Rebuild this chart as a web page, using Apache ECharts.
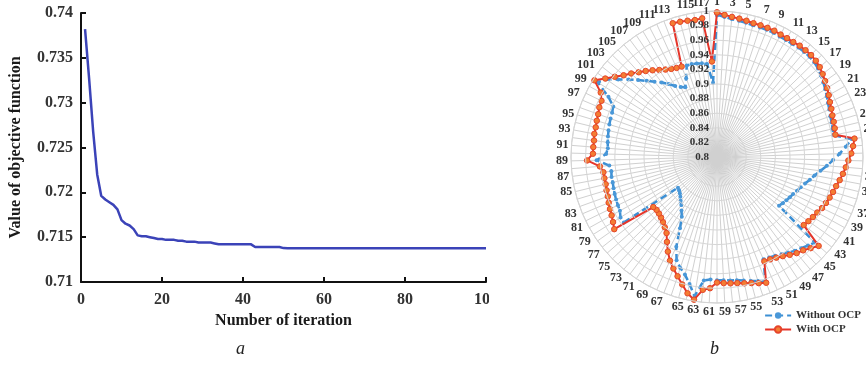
<!DOCTYPE html>
<html>
<head>
<meta charset="utf-8">
<script src="https://cdn.jsdelivr.net/npm/echarts@6/dist/echarts.min.js"></script>
<style>
  html, body { margin: 0; padding: 0; background: #ffffff; }
  #wrap { position: relative; width: 866px; height: 365px; overflow: hidden; }
  #left { position: absolute; left: 0; top: 0; width: 489px; height: 365px; }
  #right { position: absolute; left: 489px; top: 0; width: 377px; height: 365px; }
</style>
</head>
<body>
<div id="wrap"><div id="left"></div><div id="right"></div></div>
<script>
// ---------- Panel a: convergence ----------
const iterTicks = [0, 20, 40, 60, 80, 100];
const objective = [
  0.7382, 0.7327, 0.7268, 0.7220, 0.7196, 0.7192, 0.7189, 0.7186, 0.7181, 0.7169,
  0.7165, 0.7163, 0.7159, 0.7152, 0.7151, 0.7151, 0.7150, 0.7149, 0.7148, 0.7148,
  0.7147, 0.7147, 0.7147, 0.7146, 0.7146, 0.7145, 0.7145, 0.7145, 0.7144, 0.7144,
  0.7144, 0.7144, 0.7143, 0.7142, 0.7142, 0.7142, 0.7142, 0.7142, 0.7142, 0.7142,
  0.7142, 0.7142, 0.7139, 0.7139, 0.7139, 0.7139, 0.7139, 0.7139, 0.7139, 0.71378,
  0.71376, 0.71376, 0.71376, 0.71376, 0.71376, 0.71376, 0.71376, 0.71376, 0.71376, 0.71376,
  0.71376, 0.71376, 0.71376, 0.71376, 0.71376, 0.71376, 0.71376, 0.71376, 0.71376, 0.71376,
  0.71376, 0.71376, 0.71376, 0.71376, 0.71376, 0.71376, 0.71376, 0.71376, 0.71376, 0.71376,
  0.71376, 0.71376, 0.71376, 0.71376, 0.71376, 0.71376, 0.71376, 0.71376, 0.71376, 0.71376,
  0.71376, 0.71376, 0.71376, 0.71376, 0.71376, 0.71376, 0.71376, 0.71376, 0.71376, 0.71376
];

// ---------- Panel b: voltage profile (118 buses) ----------
const busNames = Array.from({ length: 118 }, (_, i) => String(i + 1));
const radialTicks = [0.8, 0.82, 0.84, 0.86, 0.88, 0.9, 0.92, 0.94, 0.96, 0.98, 1];
const withoutOCP = [
  0.995, 0.992, 0.990, 0.989, 0.988, 0.987, 0.987, 0.987, 0.987, 0.986,
  0.986, 0.986, 0.987, 0.987, 0.987, 0.986, 0.984, 0.981, 0.978, 0.975,
  0.972, 0.969, 0.967, 0.965, 0.964, 0.963, 0.962, 0.986, 0.977, 0.968,
  0.959, 0.951, 0.943, 0.936, 0.931, 0.926, 0.922, 0.919, 0.916, 0.914,
  0.912, 0.910, 0.908, 0.978, 0.974, 0.970, 0.967, 0.963, 0.960, 0.957,
  0.955, 0.954, 0.982, 0.979, 0.976, 0.973, 0.971, 0.970, 0.969, 0.969,
  0.968, 0.970, 0.993, 0.978, 0.967, 0.960, 0.952, 0.935, 0.910, 0.895,
  0.888, 0.882, 0.878, 0.874, 0.871, 0.869, 0.868, 0.956, 0.956, 0.952,
  0.951, 0.950, 0.949, 0.948, 0.947, 0.947, 0.946, 0.948, 0.965, 0.952,
  0.950, 0.951, 0.952, 0.953, 0.954, 0.955, 0.956, 0.958, 0.970, 0.993,
  0.985, 0.972, 0.961, 0.951, 0.942, 0.934, 0.927, 0.920, 0.913, 0.908,
  0.905, 0.916, 0.932, 0.932, 0.931, 0.930, 0.928, 0.902
];
const withOCP = [
  0.998, 0.995, 0.993, 0.992, 0.991, 0.990, 0.990, 0.990, 0.990, 0.989,
  0.989, 0.989, 0.990, 0.990, 0.990, 0.989, 0.987, 0.984, 0.981, 0.978,
  0.975, 0.972, 0.970, 0.968, 0.967, 0.966, 0.965, 0.990, 0.987, 0.984,
  0.980, 0.977, 0.974, 0.971, 0.968, 0.966, 0.964, 0.962, 0.960, 0.957,
  0.955, 0.953, 0.951, 0.985, 0.979, 0.974, 0.971, 0.967, 0.963, 0.960,
  0.958, 0.957, 0.985, 0.982, 0.979, 0.977, 0.975, 0.974, 0.973, 0.972,
  0.980, 0.983, 0.998, 0.991, 0.981, 0.972, 0.964, 0.956, 0.946, 0.935,
  0.925, 0.920, 0.916, 0.913, 0.911, 0.910, 0.911, 0.972, 0.968, 0.965,
  0.963, 0.961, 0.959, 0.958, 0.957, 0.957, 0.957, 0.961, 0.978, 0.970,
  0.970, 0.970, 0.971, 0.971, 0.972, 0.973, 0.975, 0.976, 0.982, 0.998,
  0.987, 0.978, 0.970, 0.964, 0.958, 0.953, 0.948, 0.943, 0.939, 0.936,
  0.934, 0.933, 0.993, 0.992, 0.991, 0.990, 0.991, 0.931
];
const seriesNames = ['Without OCP', 'With OCP'];

const SERIF = '"Liberation Serif", "DejaVu Serif", serif';

// ----- chart a -----
const chartA = echarts.init(document.getElementById('left'), null, { renderer: 'canvas' });
chartA.setOption({
  animation: false,
  backgroundColor: '#ffffff',
  grid: { left: 81, top: 13, width: 405, height: 269, containLabel: false, outerBoundsMode: 'none' },
  xAxis: {
    type: 'value', min: 0, max: 100, interval: 20,
    name: 'Number of iteration', nameLocation: 'middle', nameGap: 30,
    nameTextStyle: { fontFamily: SERIF, fontWeight: 'bold', fontSize: 16, color: '#1a1a1a' },
    axisLine: { lineStyle: { color: '#111', width: 2 } },
    axisTick: { inside: true, length: 5, lineStyle: { color: '#111', width: 2 } },
    axisLabel: { margin: 10, fontFamily: SERIF, fontWeight: 'bold', fontSize: 16, color: '#333',
      formatter: v => String(iterTicks[iterTicks.indexOf(v)]) },
    splitLine: { show: false }
  },
  yAxis: {
    type: 'value', min: 0.71, max: 0.74, interval: 0.005,
    name: 'Value of objective function', nameLocation: 'middle', nameGap: 57,
    nameTextStyle: { fontFamily: SERIF, fontWeight: 'bold', fontSize: 16, color: '#1a1a1a' },
    axisLine: { show: true, lineStyle: { color: '#111', width: 2 } },
    axisTick: { show: true, inside: true, length: 5, lineStyle: { color: '#111', width: 2 } },
    axisLabel: { margin: 8, fontFamily: SERIF, fontWeight: 'bold', fontSize: 16, color: '#333' },
    splitLine: { show: false }
  },
  graphic: [{
    type: 'text', left: 236, top: 340,
    style: { text: 'a', font: 'italic 18px ' + SERIF, fill: '#222' }
  }],
  series: [{
    type: 'line',
    data: objective.map((v, i) => [i + 1, v]),
    showSymbol: false,
    lineStyle: { color: '#3b43b8', width: 2.5 },
    itemStyle: { color: '#3b43b8' }
  }]
});

// ----- chart b -----
const chartB = echarts.init(document.getElementById('right'), null, { renderer: 'canvas' });
const N = busNames.length;
function closed(arr) {
  const d = arr.map((v, i) => [v, i]);
  d.push([arr[0], N]);
  return d;
}
chartB.setOption({
  animation: false,
  backgroundColor: '#ffffff',
  polar: { center: [228, 157], radius: 146 },
  angleAxis: {
    type: 'value', min: 0, max: N, interval: 1,
    startAngle: 90, clockwise: true,
    axisLine: { show: true, lineStyle: { color: '#d0d0d0', width: 1 } },
    axisTick: { show: false },
    splitLine: { show: true, lineStyle: { color: '#d0d0d0', width: 1 } },
    axisLabel: {
      margin: 3, fontFamily: SERIF, fontWeight: 'bold', fontSize: 12, color: '#333',
      formatter: v => (v < N && v % 2 === 0) ? busNames[v] : ''
    }
  },
  radiusAxis: {
    type: 'value', min: 0.8, max: 1, interval: 0.02,
    axisLine: { show: false },
    axisTick: { show: false },
    splitLine: { show: true, lineStyle: { color: '#d6d6d6', width: 1 } },
    axisLabel: { margin: 8, fontFamily: SERIF, fontWeight: 'bold', fontSize: 11, color: '#333',
      formatter: v => String(radialTicks.find(t => Math.abs(t - v) < 1e-9) ?? v) },
    z: 5
  },
  legend: {
    orient: 'vertical', right: 0, top: 305, itemGap: 3,
    itemWidth: 26, itemHeight: 8,
    data: seriesNames,
    textStyle: { fontFamily: SERIF, fontWeight: 'bold', fontSize: 11, color: '#333' }
  },
  graphic: [{
    type: 'text', left: 221, top: 340,
    style: { text: 'b', font: 'italic 18px ' + SERIF, fill: '#222' }
  }],
  series: [{
    name: seriesNames[0],
    type: 'line', coordinateSystem: 'polar',
    data: closed(withoutOCP),
    symbol: 'circle', symbolSize: 4,
    lineStyle: { color: '#3c8fd4', width: 2.5, type: [7, 4] },
    itemStyle: { color: '#4a98d8' },
    z: 3
  }, {
    name: seriesNames[1],
    type: 'line', coordinateSystem: 'polar',
    data: closed(withOCP),
    symbol: 'circle', symbolSize: 5.5,
    lineStyle: { color: '#e5352a', width: 2 },
    itemStyle: { color: '#f47d33', borderColor: '#e5452a', borderWidth: 1 },
    z: 4
  }]
});
</script>
</body>
</html>
